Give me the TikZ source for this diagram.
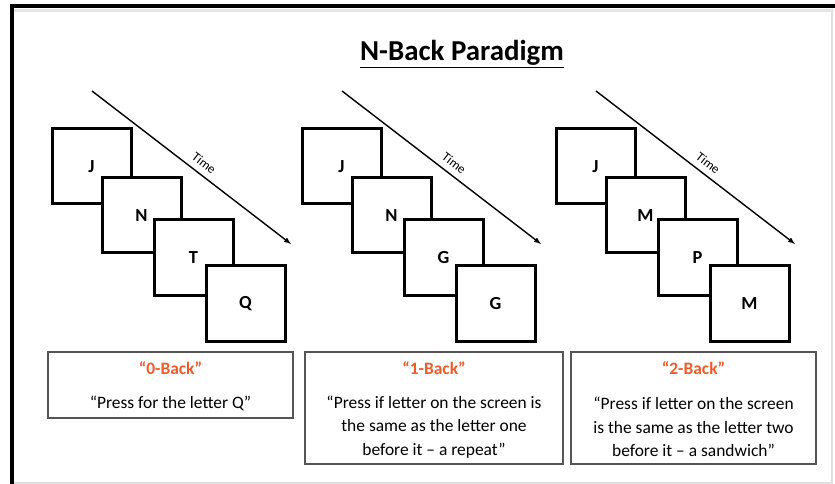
\documentclass[tikz,border=0pt]{standalone}
\usepackage{fontspec}
\setmainfont{Carlito}
\usetikzlibrary{arrows}
\definecolor{backorange}{RGB}{240,90,40}
\definecolor{boxgray}{RGB}{85,85,85}
\tikzset{
  frame/.style={draw,fill=white,line width=3bp,minimum width=79bp,minimum height=75bp,
    font=\fontsize{18.5}{20}\selectfont\bfseries},
  timeline/.style={line width=1.4bp,-latex},
  timelabel/.style={sloped,above=2.5bp,font=\fontsize{13}{14}\selectfont},
  infobox/.style={draw=boxgray,line width=1.2bp},
  boxtitle/.style={text=backorange,font=\fontsize{17.5}{20}\selectfont\bfseries},
  boxtext/.style={align=center,font=\fontsize{17.5}{23.5}\selectfont}
}
\begin{document}
\begin{tikzpicture}[x=1bp,y=-1bp]
\useasboundingbox (0,0) rectangle (835,484);
\draw [gray!25,line width=1.2bp](832,9) -- (832,483) -- (14,483);
\draw [gray!20,line width=3bp](14,10.5) -- (832,10.5);
\draw [line width=4bp](12,484) -- (12,6) -- (835,6);
\node (title) at (462,54) {\fontsize{29}{31}\selectfont\bfseries\underline{N-Back Paradigm}};
% the three sequences of screens
\foreach \px/\tag/\la/\lb/\lc/\ld in {0/a/J/N/T/Q,250/b/J/N/G/G,504/c/J/M/P/M}{
  \coordinate (\tag start) at (\px+92,91);
  \coordinate (\tag end) at (\px+291,244);
  \draw [timeline](\tag start) -- node[timelabel,pos=0.53] {Time} (\tag end);
  \node [frame] (\tag1) at (\px+91.5,166.5) {\la};
  \node [frame] (\tag2) at (\px+141.5,215.5) {\lb};
  \node [frame] (\tag3) at (\px+193.5,257.5) {\lc};
  \node [frame] (\tag4) at (\px+245.5,303.5) {\ld};
}
% instruction boxes
\node [infobox,minimum width=245bp,minimum height=66bp] (box0) at (170.5,385) {};
\node [infobox,minimum width=258bp,minimum height=112bp] (box1) at (434,408) {};
\node [infobox,minimum width=245bp,minimum height=112bp] (box2) at (693.5,408) {};
\node [boxtitle] (name0) at (170.5,368) {“0-Back”};
\node [boxtitle] (name1) at (434,368) {“1-Back”};
\node [boxtitle] (name2) at (693.5,368) {“2-Back”};
\node [boxtext] (text0) at (170.5,403) {“Press for the letter Q”};
\node [boxtext] (text1) at (434,427) {“Press if letter on the screen is\\the same as the letter one\\before it – a repeat”};
\node [boxtext] (text2) at (693.5,427) {“Press if letter on the screen\\is the same as the letter two\\before it – a sandwich”};
\end{tikzpicture}
\end{document}
